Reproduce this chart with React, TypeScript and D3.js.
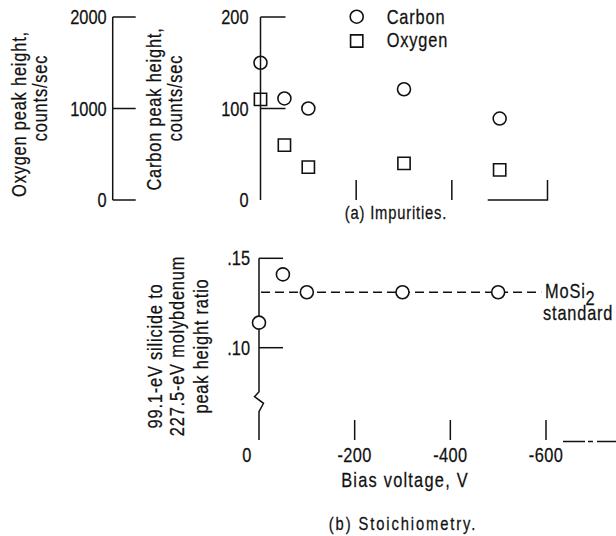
import React from "react";
import * as d3 from "d3";

// bias voltage of each sample, V
const biasVoltage = [0, -50, -100, -300, -500];
// (a) impurities
const carbonPeak = [150, 111, 100, 121, 89];
const oxygenPeak = [1100, 600, 360, 400, 330];
// (b) stoichiometry
const peakRatio = [0.114, 0.141, 0.131, 0.131, 0.131];
const mosi2Standard = 0.131;

const carbonTicks = [0, 100, 200];
const oxygenTicks = [0, 1000, 2000];
const ratioTicks = [0.1, 0.15];
const biasTicks = [0, -200, -400, -600];

const FONT = "'Liberation Sans', Arial, sans-serif";
const NARROW = 0.82; // squeeze glyphs to look like the narrow lettering

type TProps = {
  x: number;
  y: number;
  rot?: number;
  anchor?: "start" | "middle" | "end";
  size?: number;
  ls?: number;
  dy?: string;
  children: React.ReactNode;
};

// text drawn with a horizontal squeeze
function T({ x, y, rot = 0, anchor = "start", size = 20, ls = 0, dy, children }: TProps) {
  return (
    <text
      transform={`translate(${x},${y}) rotate(${rot}) scale(${NARROW},1)`}
      textAnchor={anchor}
      fontFamily={FONT}
      fontSize={size}
      letterSpacing={ls}
      dy={dy}
      fill="#111"
      stroke="#111"
      strokeWidth={0.25}
    >
      {children}
    </text>
  );
}

export default function App() {
  const W = 616, H = 536;

  // top panel scales
  const xTop = d3.scaleLinear().domain([0, -600]).range([260.5, 547.5]);
  const yCarbon = d3.scaleLinear().domain([0, 200]).range([200, 17]);
  const yOxygen = d3.scaleLinear().domain([0, 2000]).range([200, 17]);
  const oxAxisX = 112.7;

  // bottom panel scales
  const xBot = d3.scaleLinear().domain([0, -600]).range([259, 546]);
  const yRatio = d3.scaleLinear().domain([0.1, 0.15]).range([347.7, 258.3]);
  const botBase = 440;

  const fmtRatio = (v: number) => d3.format(".2f")(v).replace(/^0/, "");
  const square = d3.symbol().type(d3.symbolSquare).size(150);

  const stroke = "#111";
  const x0 = xBot(0);

  return (
    <svg width={W} height={H} style={{ position: "absolute", left: 0, top: 0, background: "#fff" }}>
      {/* ---------- (a) impurities ---------- */}
      {/* oxygen axis */}
      <g stroke={stroke} strokeWidth={1.5}>
        <line x1={oxAxisX} x2={oxAxisX} y1={yOxygen(2000)} y2={yOxygen(0)} />
        {oxygenTicks.map(t => (
          <line key={t} x1={oxAxisX} x2={oxAxisX + 23} y1={yOxygen(t)} y2={yOxygen(t)} />
        ))}
      </g>
      {oxygenTicks.map(t => (
        <T key={t} x={oxAxisX - 6} y={yOxygen(t)} dy="0.35em" anchor="end">{t}</T>
      ))}
      <T x={26} y={114} rot={-90} anchor="middle" ls={1}>Oxygen peak height,</T>
      <T x={47} y={98} rot={-90} anchor="middle" ls={1}>counts/sec</T>
      <T x={161} y={109} rot={-90} anchor="middle" ls={1}>Carbon peak height,</T>
      <T x={182} y={98} rot={-90} anchor="middle" ls={1}>counts/sec</T>

      {/* carbon axis */}
      <g stroke={stroke} strokeWidth={1.5} fill="none">
        <line x1={xTop(0)} x2={xTop(0)} y1={yCarbon(200)} y2={yCarbon(0)} />
        {carbonTicks.filter(t => t > 0).map(t => (
          <line key={t} x1={xTop(0)} x2={xTop(0) + 25} y1={yCarbon(t)} y2={yCarbon(t)} />
        ))}
        {biasTicks.filter(t => t < 0 && t > -600).map(t => (
          <line key={t} x1={xTop(t)} x2={xTop(t)} y1={yCarbon(0) - 20} y2={yCarbon(0)} />
        ))}
        <path d={`M${xTop(-475)},${yCarbon(0)}H${xTop(-600)}V${yCarbon(0) - 20}`} />
      </g>
      {carbonTicks.map(t => (
        <T key={t} x={xTop(0) - 12} y={yCarbon(t)} dy="0.35em" anchor="end">{t}</T>
      ))}

      {/* data */}
      <g fill="none" stroke={stroke} strokeWidth={1.6}>
        {biasVoltage.map((v, i) => (
          <circle key={"c" + i} cx={xTop(v)} cy={yCarbon(carbonPeak[i])} r={6.5} />
        ))}
        {biasVoltage.map((v, i) => (
          <path key={"o" + i} d={square() as string} transform={`translate(${xTop(v)},${yOxygen(oxygenPeak[i])})`} />
        ))}
        <circle cx={356.7} cy={16.7} r={6.5} />
        <path d={square() as string} transform="translate(356.7,41)" />
      </g>
      <T x={386.7} y={24} ls={1}>Carbon</T>
      <T x={386.7} y={47} ls={1}>Oxygen</T>
      <T x={396} y={219} anchor="middle" size={18} ls={1}>(a) Impurities.</T>

      {/* ---------- (b) stoichiometry ---------- */}
      <g stroke={stroke} strokeWidth={1.5} fill="none">
        <path
          d={`M${x0},${yRatio(0.15)}V391.7L${x0 - 4.5},396.7L${x0 + 4.5},403.3L${x0},411.7V${botBase}`}
        />
        {ratioTicks.map(t => (
          <line key={t} x1={x0} x2={x0 + 24} y1={yRatio(t)} y2={yRatio(t)} />
        ))}
        {biasTicks.filter(t => t < 0).map(t => (
          <line key={t} x1={xBot(t)} x2={xBot(t)} y1={botBase - 20} y2={botBase} />
        ))}
        <line x1={xBot(-600) + 17} x2={W} y1={botBase + 1.5} y2={botBase + 1.5} strokeDasharray="22,3,5,4" />
        <line
          x1={x0 + 2}
          x2={xBot(-590)}
          y1={yRatio(mosi2Standard)}
          y2={yRatio(mosi2Standard)}
          strokeDasharray="9,5"
        />
      </g>
      <g fill="#fff" stroke={stroke} strokeWidth={1.6}>
        {biasVoltage.map((v, i) => (
          <circle key={i} cx={xBot(v)} cy={yRatio(peakRatio[i])} r={6.5} />
        ))}
      </g>
      {ratioTicks.map(t => (
        <T key={t} x={x0 - 9} y={yRatio(t)} dy="0.35em" anchor="end">{fmtRatio(t)}</T>
      ))}
      {biasTicks.map(t => (
        <T key={t} x={xBot(t) + (t === 0 ? -12 : 0)} y={462} anchor="middle" ls={0.5}>
          {t === 0 ? "0" : "-" + Math.abs(t)}
        </T>
      ))}
      <T x={405} y={487} anchor="middle" ls={1.5}>Bias voltage, V</T>
      <T x={403} y={530} anchor="middle" size={18} ls={2.3}>(b) Stoichiometry.</T>

      <T x={545} y={298} ls={1}>
        MoSi<tspan dy={7}>2</tspan>
      </T>
      <T x={543} y={320} ls={1}>standard</T>

      <T x={162} y={356} rot={-90} anchor="middle" ls={1}>99.1-eV silicide to</T>
      <T x={184} y={346} rot={-90} anchor="middle" ls={1}>227.5-eV molybdenum</T>
      <T x={208} y={346} rot={-90} anchor="middle" ls={1}>peak height ratio</T>
    </svg>
  );
}
